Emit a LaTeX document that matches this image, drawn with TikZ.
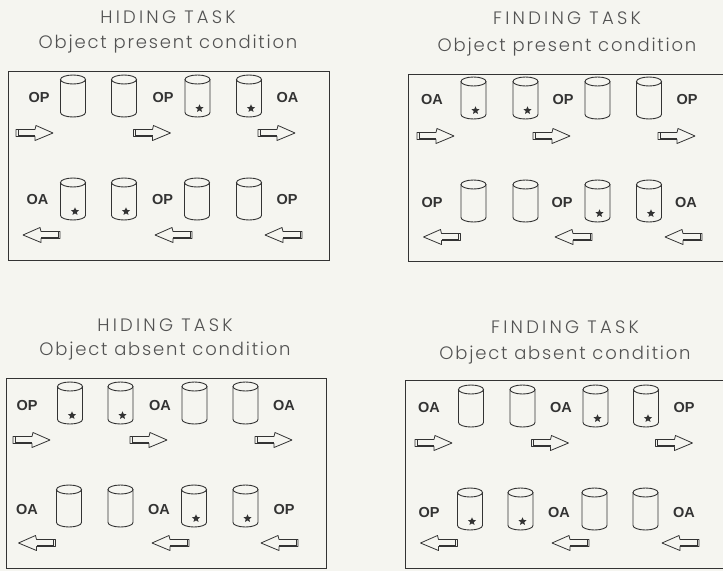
\documentclass[tikz,border=0pt]{standalone}
\usepackage{fontspec}
\setmainfont{Liberation Sans}
\newfontfamily\titlefont[LetterSpace=18]{Poppins Light}
\newfontfamily\subfont[LetterSpace=10]{Poppins Light}
\newfontfamily\labfont{Liberation Sans}
\usetikzlibrary{shapes.geometric}
\definecolor{bg}{HTML}{F5F5F0}
\definecolor{ink}{HTML}{333333}
\tikzset{
  ttl/.style={font=\titlefont\fontsize{18}{19}\selectfont, text=ink!85, inner sep=0pt},
  sub/.style={font=\subfont\fontsize{18}{19}\selectfont, text=ink!85, inner sep=0pt},
  lab/.style={font=\labfont\bfseries\fontsize{14.5}{15}\selectfont, text=ink, inner sep=0pt},
  panel/.style={draw=ink, line width=0.9pt},
  cyl/.pic={
    \draw[ink, line width=0.9pt] (0pt,16.5pt) ellipse [x radius=12.5pt, y radius=4.5pt];
    \draw[ink, line width=0.9pt] (-12.5pt,16.5pt) -- (-12.5pt,-16.5pt)
       arc[start angle=180, end angle=360, x radius=12.5pt, y radius=4.5pt] -- (12.5pt,16.5pt);
  },
  cylstar/.pic={
    \pic {cyl};
    \node[star, star points=5, star point ratio=2.2, fill=ink, inner sep=0pt, minimum size=8.5pt] at (2pt,-12.5pt) {};
  },
  arrR/.pic={
    \draw[ink, line width=0.8pt, line join=round] (-18.5pt,3.5pt) -- (0.5pt,3.5pt) -- (1.5pt,7.5pt) -- (18.5pt,0pt)
      -- (0.5pt,-7.5pt) -- (0.5pt,-3.5pt) -- (-18.5pt,-3.5pt) -- cycle;
    \draw[ink, line width=0.6pt] (-16.5pt,3.5pt) -- (-16.5pt,-3.5pt);
    \draw[ink, line width=0.6pt] (-16.5pt,-2.3pt) -- (0.5pt,-2.3pt);
  },
  arrL/.pic={
    \begin{scope}[xscale=-1]
    \draw[ink, line width=0.8pt, line join=round] (-18.5pt,3.5pt) -- (0.5pt,3.5pt) -- (1.5pt,7.5pt) -- (18.5pt,0pt)
      -- (0.5pt,-7.5pt) -- (0.5pt,-3.5pt) -- (-18.5pt,-3.5pt) -- cycle;
    \draw[ink, line width=0.6pt] (-16.5pt,3.5pt) -- (-16.5pt,-3.5pt);
    \draw[ink, line width=0.6pt] (-16.5pt,-2.3pt) -- (0.5pt,-2.3pt);
    \end{scope}
  }
}
\begin{document}
\begin{tikzpicture}[x=1pt,y=-1pt]
\fill[bg] (0,0) rectangle (723,571);
\useasboundingbox (0,0) rectangle (723,571);
\begin{scope}
\clip (0,0) rectangle (723,571);

% ---------- Panel 1: hiding, present
\node[ttl] (t1a) at (168,17) {HIDING TASK};
\node[sub] (t1b) at (168,44) {Object present condition};
\draw[panel] (8,71) rectangle (329,260);
\pic at (73,96) {cyl};
\pic at (124,96) {cyl};
\pic at (197.5,96) {cylstar};
\pic at (249,96) {cylstar};
\node[lab] (l1a) at (39,98) {OP};
\node[lab] (l1b) at (163,98) {OP};
\node[lab] (l1c) at (287.5,98) {OA};
\pic at (34.5,133) {arrR};
\pic at (152,133) {arrR};
\pic at (276.5,133) {arrR};
\pic at (73,199) {cylstar};
\pic at (124,199) {cylstar};
\pic at (197,199) {cyl};
\pic at (249,199) {cyl};
\node[lab] (l1d) at (37.5,200) {OA};
\node[lab] (l1e) at (162.5,200) {OP};
\node[lab] (l1f) at (287,200) {OP};
\pic at (41.5,235) {arrL};
\pic at (173.5,235) {arrL};
\pic at (283.5,235) {arrL};

% ---------- Panel 2: finding, present
\node[ttl] (t2a) at (567,18) {FINDING TASK};
\node[sub] (t2b) at (567,47) {Object present condition};
\draw[panel] (408,74) rectangle (726,261);
\pic at (473.5,98) {cylstar};
\pic at (525.5,98) {cylstar};
\pic at (597.5,98) {cyl};
\pic at (649,98) {cyl};
\node[lab] (l2a) at (432,100) {OA};
\node[lab] (l2b) at (563,100) {OP};
\node[lab] (l2c) at (687,100) {OP};
\pic at (435.5,136) {arrR};
\pic at (551.5,136) {arrR};
\pic at (676.5,136) {arrR};
\pic at (473.5,201) {cyl};
\pic at (525.5,201) {cyl};
\pic at (597.5,201) {cylstar};
\pic at (649,201) {cylstar};
\node[lab] (l2d) at (432,203) {OP};
\node[lab] (l2e) at (562,203) {OP};
\node[lab] (l2f) at (686,203) {OA};
\pic at (442,237) {arrL};
\pic at (573.5,237) {arrL};
\pic at (683.5,237) {arrL};

% ---------- Panel 3: hiding, absent
\node[ttl] (t3a) at (165,325) {HIDING TASK};
\node[sub] (t3b) at (165,351) {Object absent condition};
\draw[panel] (6,378) rectangle (326,568);
\pic at (70,403) {cylstar};
\pic at (120.5,403) {cylstar};
\pic at (194.5,403) {cyl};
\pic at (245.5,403) {cyl};
\node[lab] (l3a) at (27,406) {OP};
\node[lab] (l3b) at (160,406) {OA};
\node[lab] (l3c) at (284,406) {OA};
\pic at (31.5,440) {arrR};
\pic at (148.5,440) {arrR};
\pic at (273.5,440) {arrR};
\pic at (69,506) {cyl};
\pic at (120.5,506) {cyl};
\pic at (194,506) {cylstar};
\pic at (245.5,506) {cylstar};
\node[lab] (l3d) at (27,509) {OA};
\node[lab] (l3e) at (159,509) {OA};
\node[lab] (l3f) at (284,509) {OP};
\pic at (37,543) {arrL};
\pic at (170.5,543) {arrL};
\pic at (279.5,543) {arrL};

% ---------- Panel 4: finding, absent
\node[ttl] (t4a) at (565,327) {FINDING TASK};
\node[sub] (t4b) at (565,355) {Object absent condition};
\draw[panel] (405,380) rectangle (726,568);
\pic at (471,406) {cyl};
\pic at (522.5,406) {cyl};
\pic at (595.5,406) {cylstar};
\pic at (646,406) {cylstar};
\node[lab] (l4a) at (429,408) {OA};
\node[lab] (l4b) at (561,408) {OA};
\node[lab] (l4c) at (684,408) {OP};
\pic at (433.5,443) {arrR};
\pic at (550,443) {arrR};
\pic at (674,443) {arrR};
\pic at (470,509) {cylstar};
\pic at (520.5,509) {cylstar};
\pic at (594.5,509) {cyl};
\pic at (645.5,509) {cyl};
\node[lab] (l4d) at (429,512) {OP};
\node[lab] (l4e) at (559,512) {OA};
\node[lab] (l4f) at (684,512) {OA};
\pic at (439,543) {arrL};
\pic at (570.5,543) {arrL};
\pic at (680.5,543) {arrL};
\end{scope}
\end{tikzpicture}
\end{document}
